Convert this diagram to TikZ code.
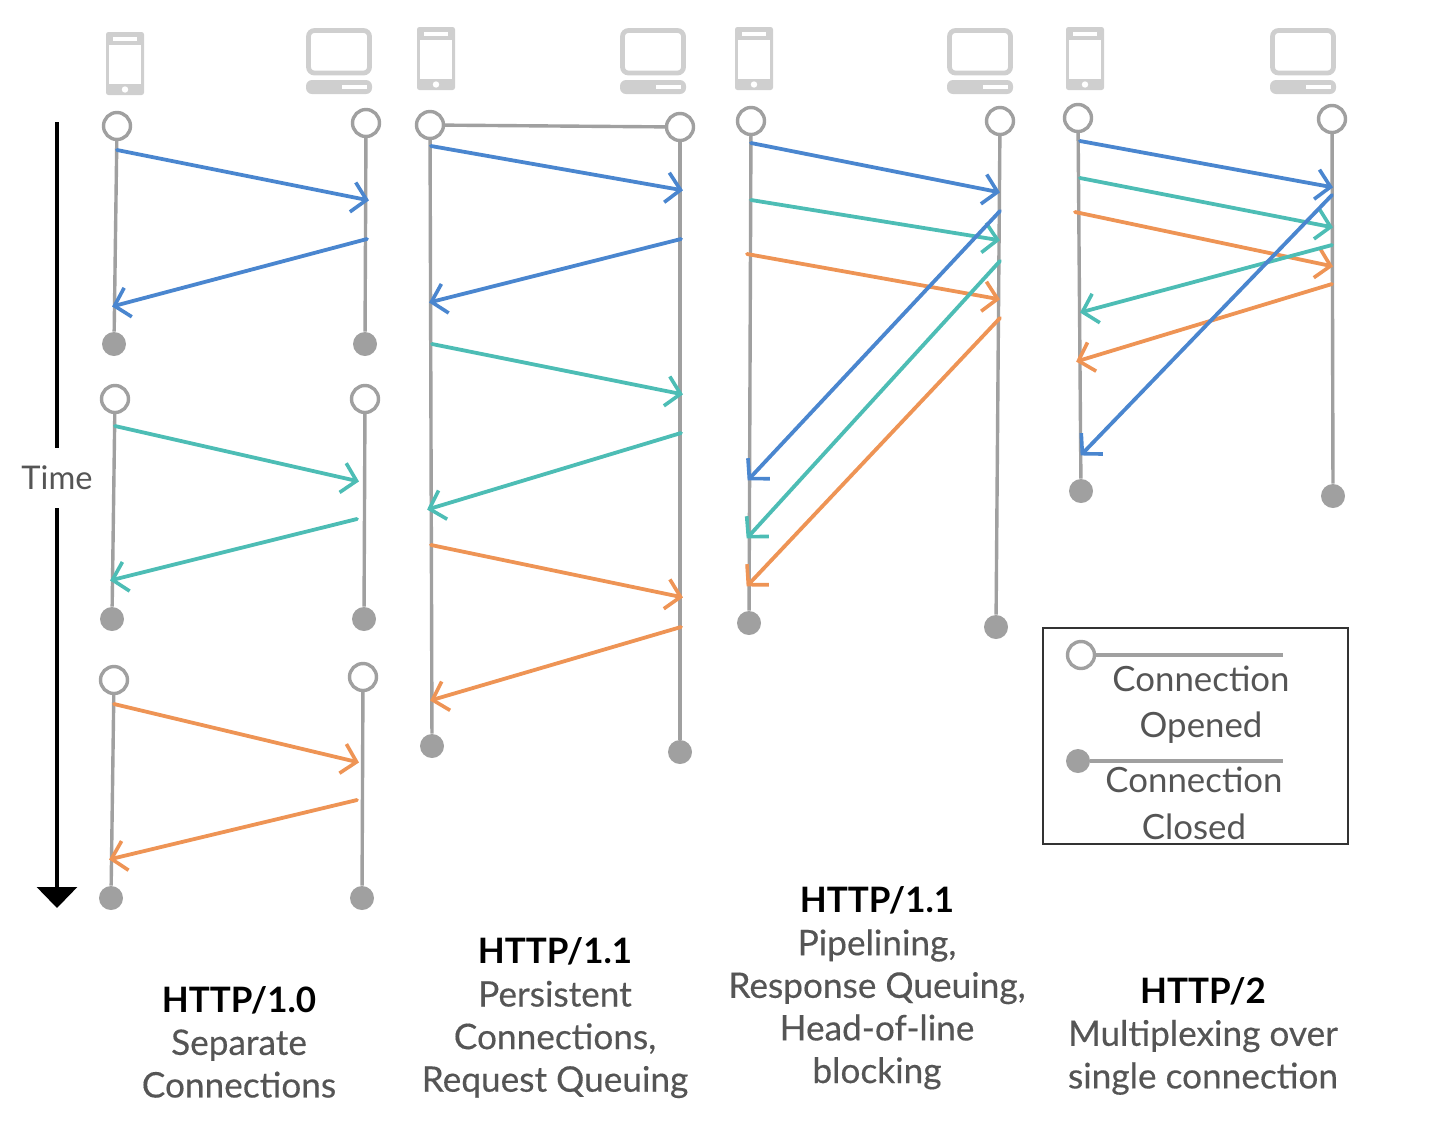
\documentclass[tikz,border=0pt]{standalone}
\usepackage{fontspec}
\setmainfont{Lato}
\newfontfamily\capfont{Lato}[FakeBold=0.35]
\usetikzlibrary{arrows.meta}
\definecolor{cblue}{HTML}{4A86CF}
\definecolor{cteal}{HTML}{4DBDB5}
\definecolor{corange}{HTML}{EE9455}
\definecolor{life}{HTML}{A0A0A0}
\definecolor{icon}{HTML}{CFCFCF}
\definecolor{txt}{HTML}{555555}
\tikzset{
  openc/.style={circle,draw=life,fill=white,line width=1.7pt,minimum size=13.5pt,inner sep=0pt},
  closedc/.style={circle,fill=life,minimum size=12pt,inner sep=0pt},
  lifeline/.style={draw=life,line width=1.7pt},
  msg/.style={line width=1.9pt,line cap=round,shorten >=-1pt,-{Straight Barb[length=7pt,width=15pt,line width=1.8pt]}},
  captext/.style={align=center,text=txt,font=\capfont\fontsize{17.6}{21.3}\selectfont},
  legtext/.style={text=txt,font=\fontsize{17.4}{21}\selectfont},
}
\newcommand{\httpttl}[1]{{\setmainfont{Lato}\fontsize{17.5}{21.3}\selectfont\normalfont\bfseries\color{black}#1}}
% phone: left, top
\newcommand{\phoneicon}[2]{%
  \begin{scope}[shift={(#1,#2)}]
    \fill[icon,rounded corners=1.2pt] (0,0) rectangle (38,63);
    \fill[white] (3,13) rectangle (35,52);
    \fill[white] (7,5) rectangle (31,9);
    \fill[white] (19,57.5) circle (3.2);
  \end{scope}}
% laptop: left, top
\newcommand{\laptopicon}[2]{%
  \begin{scope}[shift={(#1,#2)}]
    \draw[icon,line width=2.4pt,rounded corners=3pt] (2.5,2.5) rectangle (63.5,45);
    \fill[icon,rounded corners=3pt] (0,52) rectangle (66,66);
    \fill[white] (36,57) rectangle (61,61);
  \end{scope}}
% arrow: colour, name, from, to
\newcommand{\msgarrow}[4]{%
  \coordinate (#2s) at (#3);
  \coordinate (#2e) at (#4);
  \draw[msg,#1] (#2s) -- (#2e);}
% lifeline pair: name, open xy, closed xy
\newcommand{\lifel}[3]{%
  \node[openc] (#1o) at (#2) {};
  \node[closedc] (#1c) at (#3) {};
  \draw[lifeline] (#1o) -- (#1c);}
\begin{document}
\begin{tikzpicture}[x=0.5pt,y=-0.5pt]
\useasboundingbox (0,0) rectangle (1450,1142);
% icons
\phoneicon{106}{32}\laptopicon{306}{28}
\phoneicon{417}{27}\laptopicon{620}{28}
\phoneicon{735}{27}\laptopicon{947}{28}
\phoneicon{1066}{27}\laptopicon{1270}{28}
% time
\coordinate (ts) at (57,122);
\coordinate (te) at (57,908);
\draw[black,line width=1.6pt,-{Triangle[length=10.5pt,width=20pt]}] (ts) -- (te);
\node[fill=white,inner xsep=0pt,inner ysep=9pt,text=txt,font=\fontsize{16.3}{20}\selectfont] (time) at (57,478) {Time};
% column 1
\lifel{aa}{117,126}{114,344}\lifel{ab}{366,123}{365,344}
\lifel{ba}{115,399}{112,619}\lifel{bb}{365,399}{364,619}
\lifel{ca}{114,680}{111,898}\lifel{cb}{363,677}{362,898}
\msgarrow{cblue}{m1}{117,150}{367,200}
\msgarrow{cblue}{m2}{367,239}{114,306}
\msgarrow{cteal}{m3}{115,426}{357,481}
\msgarrow{cteal}{m4}{357,519}{112,580}
\msgarrow{corange}{m5}{114,704}{357,762}
\msgarrow{corange}{m6}{357,800}{111,859}
% column 2
\lifel{da}{430,125}{432,746}\lifel{db}{680,127}{680,752}
\draw[lifeline] (dao) -- (dbo);
\msgarrow{cblue}{n1}{431,146}{681,190}
\msgarrow{cblue}{n2}{681,239}{431,302}
\msgarrow{cteal}{n3}{432,344}{681,394}
\msgarrow{cteal}{n4}{681,433}{429,509}
\msgarrow{corange}{n5}{431,545}{681,597}
\msgarrow{corange}{n6}{681,627}{432,700}
% column 3
\lifel{ea}{751,121}{749,623}\lifel{eb}{1000,121}{996,627}
\msgarrow{cblue}{p1}{751,143}{998,192}
\msgarrow{cteal}{p2}{751,200}{998,240}
\msgarrow{corange}{p3}{747,254}{998,299}
\msgarrow{cblue}{p4}{1000,211}{749,479}
\msgarrow{cteal}{p5}{1000,261}{748,537}
\msgarrow{corange}{p6}{1000,318}{748,585}
% column 4
\lifel{fa}{1078,118}{1081,491}\lifel{fb}{1332,119}{1333,496}
\msgarrow{cblue}{q1}{1080,141}{1331,187}
\msgarrow{cteal}{q2}{1080,178}{1331,227}
\msgarrow{corange}{q3}{1075,212}{1331,266}
\msgarrow{cteal}{q4}{1332,245}{1082,312}
\msgarrow{corange}{q5}{1332,284}{1078,361}
\msgarrow{cblue}{q6}{1332,195}{1082,454}
% legend
\node[draw=black!80,line width=0.8pt,minimum width=152.5pt,minimum height=108pt,inner sep=0pt] (legend) at (1195.5,736) {};
\coordinate (l1e) at (1283,655);
\coordinate (l2e) at (1283,761);
\node[openc] (l1) at (1081,655) {};
\node[closedc] (l2) at (1078,761) {};
\draw[lifeline] (l1) -- (l1e);
\draw[lifeline] (l2) -- (l2e);
\node[legtext] (t1) at (1201,679) {Connection};
\node[legtext] (t2) at (1201,728) {Opened};
\node[legtext] (t3) at (1194,780) {Connection};
\node[legtext] (t4) at (1194,827) {Closed};
% captions
\node[captext] (c1) at (239,1042) {\httpttl{HTTP/1.0}\\Separate\\Connections};
\node[captext] (c2) at (555,1018) {\httpttl{HTTP/1.1}\\Persistent\\Connections,\\Request Queuing};
\node[captext] (c3) at (877,988) {\httpttl{HTTP/1.1}\\Pipelining,\\Response Queuing,\\Head-of-line\\blocking};
\node[captext] (c4) at (1203,1036) {\httpttl{HTTP/2}\\Multiplexing over\\single connection};
\end{tikzpicture}
\end{document}
